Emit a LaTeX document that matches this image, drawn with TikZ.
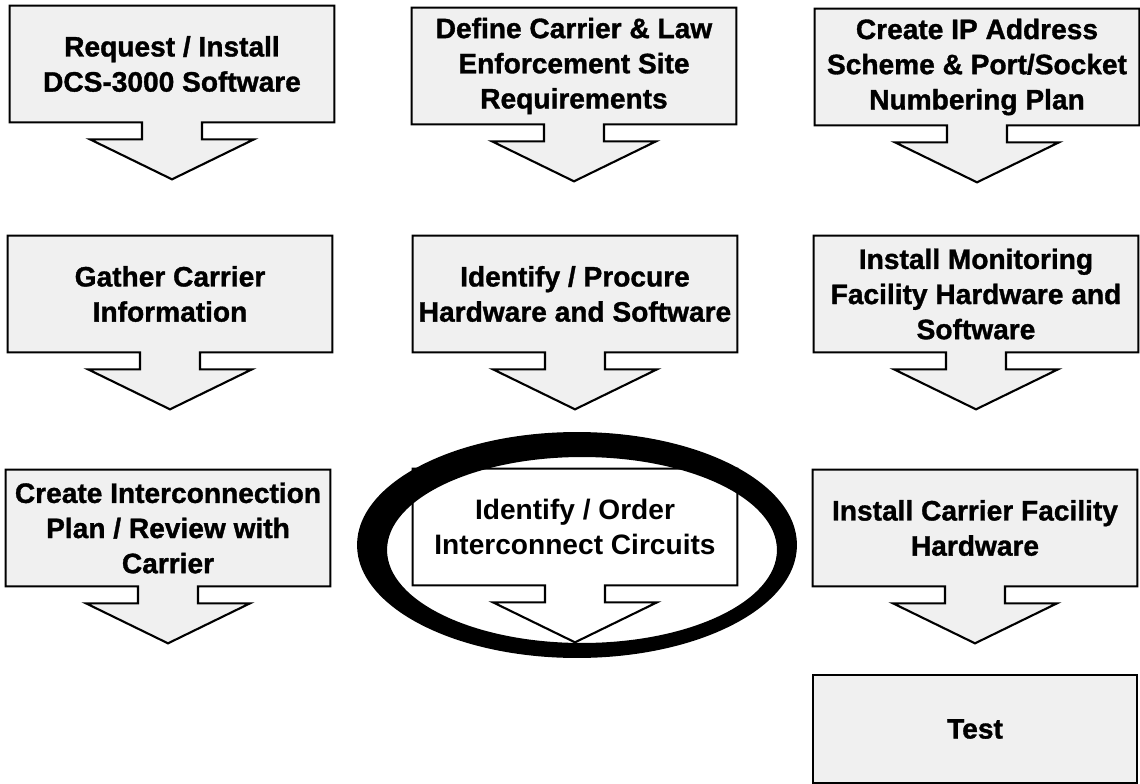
\documentclass[tikz,border=0pt]{standalone}
\usepackage{fontspec}
\setmainfont{Liberation Sans}
\newfontfamily\heavyfont{Liberation Sans Bold}[FakeBold=1.2]
\usepackage{tikz}
\usetikzlibrary{backgrounds}
\definecolor{scangray}{RGB}{240,240,240}
\newcommand{\callout}[2][scangray]{
\begin{pgfonlayer}{background}
\draw[line width=1.2pt, fill=#1] (#2.north west) -- (#2.north east) -- (#2.south east)
  -- ([xshift=0.6cm]#2.south) -- ++(0,17) -- ++(52,0) -- ([yshift=-1.14cm]#2.south)
  -- ++(-82,-40) -- ++(52,0) -- ++(0,-17) -- (#2.south west) -- cycle;
\end{pgfonlayer}
}

\begin{document}
\begin{tikzpicture}[x=0.02cm, y=-0.02cm,
    stepnode/.style={minimum width=6.48cm, minimum height=2.32cm, inner sep=0pt,
      align=center, font=\fontsize{16}{20}\selectfont\heavyfont}]
    \useasboundingbox (0,0) rectangle (1140,784);
    % first row
    \node[stepnode] (request) at (172,64) {Request / Install\\DCS-3000 Software};
    \node[stepnode] (define) at (574,66) {Define Carrier \& Law\\Enforcement Site\\Requirements};
    \node[stepnode] (ipplan) at (977,67) {Create IP Address\\Scheme \& Port/Socket\\Numbering Plan};
    % second row
    \node[stepnode] (gather) at (170,294) {Gather Carrier\\Information};
    \node[stepnode] (procure) at (575,294) {Identify / Procure\\Hardware and Software};
    \node[stepnode] (monitor) at (976,294) {Install Monitoring\\Facility Hardware and\\Software};
    % third row
    \node[stepnode] (interplan) at (168,528) {Create Interconnection\\Plan / Review with\\Carrier};
    \node[stepnode, font=\fontsize{16}{20}\selectfont\bfseries] (circuits) at (575,527) {Identify / Order\\Interconnect Circuits};
    \node[stepnode] (carrierhw) at (975,528) {Install Carrier Facility\\Hardware};
    \node[stepnode, draw, fill=scangray, line width=1.2pt, minimum height=2.16cm] (test) at (975,729) {Test};
    \callout{request} \callout{define} \callout{ipplan}
    \callout{gather} \callout{procure} \callout{monitor}
    \callout{interplan} \callout[white]{circuits} \callout{carrierhw}
    % ring round the current step
    \fill[even odd rule] (577,545) ellipse [x radius=4.4cm, y radius=2.26cm]
      (582,550) ellipse [x radius=3.9cm, y radius=1.86cm];
\end{tikzpicture}
\end{document}
